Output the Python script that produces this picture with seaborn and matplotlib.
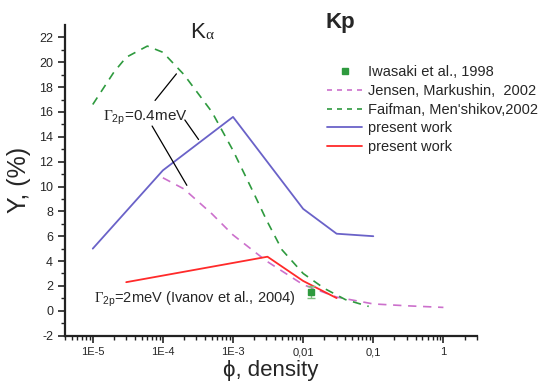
import seaborn as sns
import pandas as pd
import numpy as np
import matplotlib.pyplot as plt

# data
iwasaki_x = [0.0131]
iwasaki_y = [1.5]
iwasaki_err = [0.5]

jensen_x = [1e-4, 2e-4, 5e-4, 1e-3, 3e-3, 1e-2, 3e-2, 0.1, 0.3, 1.0]
jensen_y = [10.7, 9.8, 7.8, 6.1, 4.0, 2.1, 1.1, 0.55, 0.4, 0.27]

faifman_x = [1e-5, 2e-5, 3e-5, 6e-5, 1e-4, 2e-4, 5e-4, 1e-3, 2e-3, 3e-3, 5e-3, 1e-2, 2e-2, 4e-2, 0.086]
faifman_y = [16.6, 19.2, 20.4, 21.3, 20.8, 19.0, 16.0, 12.9, 9.4, 7.3, 4.9, 3.0, 1.8, 0.9, 0.35]

ka_x = [1e-5, 1e-4, 1e-3, 1e-2, 3e-2, 0.1]
ka_y = [5.0, 11.3, 15.6, 8.2, 6.2, 6.0]

kb_x = [3e-5, 3.1e-3, 1e-2, 3e-2]
kb_y = [2.3, 4.35, 2.4, 1.02]

xticks = [1e-5, 1e-4, 1e-3, 1e-2, 1e-1, 1]
xticklabels = ["1E-5", "1E-4", "1E-3", "0,01", "0,1", "1"]

sns.set_style("ticks")
plt.rcParams['font.family'] = ['Liberation Sans', 'DejaVu Sans']
plt.rcParams['axes.unicode_minus'] = False
plt.rcParams['mathtext.fontset'] = 'custom'
plt.rcParams['mathtext.rm'] = 'Liberation Serif'
plt.rcParams['mathtext.sf'] = 'Liberation Sans'

fig = plt.figure(figsize=(5.45, 3.84), dpi=100)
ax = fig.add_axes([0.119, 0.126, 0.756, 0.809])

blue = "#6a62c8"
red = "#ff2a2a"
pink = "#cc70cc"
green = "#2e9a3e"

sns.lineplot(x=jensen_x, y=jensen_y, ax=ax, color=pink, lw=1.2)
ax.lines[-1].set_dashes([5, 4])
sns.lineplot(x=faifman_x, y=faifman_y, ax=ax, color=green, lw=1.2)
ax.lines[-1].set_dashes([5, 4])
sns.lineplot(x=ka_x, y=ka_y, ax=ax, color=blue, lw=1.3)
sns.lineplot(x=kb_x, y=kb_y, ax=ax, color=red, lw=1.3)
ax.errorbar(iwasaki_x, iwasaki_y, yerr=iwasaki_err, fmt='s', color=green, ms=5,
            capsize=3, elinewidth=1, ecolor="#7fbf7f")

ax.set_xscale('log')
ax.set_xlim(4e-6, 3)
ax.set_ylim(-2, 23)
ax.set_xticks(xticks)
ax.set_xticklabels(xticklabels, fontsize=8)
ax.xaxis.set_minor_locator(plt.matplotlib.ticker.LogLocator(base=10, subs=np.arange(2, 10)))
ax.xaxis.set_minor_formatter(plt.NullFormatter())
ax.set_yticks(np.arange(-2, 23, 2))
ax.set_yticks(np.arange(-2, 23, 1), minor=True)
ax.tick_params(axis='y', labelsize=9)
ax.tick_params(which='major', length=5, width=1.2, direction='out', color='#222222')
ax.tick_params(which='minor', length=3, width=1, direction='out', color='#222222')
sns.despine(ax=ax)
for s in ['left', 'bottom']:
    ax.spines[s].set_linewidth(1.6)
    ax.spines[s].set_color('#222222')

ax.set_xlabel("ϕ, density", fontsize=16, labelpad=2)
ax.set_ylabel("Y, (%)", fontsize=18, labelpad=6)

fig.text(0.349, 0.915, "K", fontsize=16, va='center')
fig.text(0.376, 0.908, "α", fontsize=11, va='center', family='Liberation Serif')
fig.text(0.597, 0.941, "Kp", fontsize=16, weight='bold', va='center')

ax.text(1.41e-5, 15.5, r"$\Gamma_{\mathsf{2p}}$=0.4meV", fontsize=11, va='center')
ax.text(1.05e-5, 0.9, r"$\Gamma_{\mathsf{2p}}$=2meV (Ivanov et al., 2004)", fontsize=10.5, va='center')

ax.annotate("", xy=(1.65e-4, 19.24), xytext=(7.3e-5, 16.75),
            arrowprops=dict(arrowstyle='-', color='black', lw=0.9))
ax.annotate("", xy=(3.4e-4, 13.6), xytext=(1.95e-4, 15.54),
            arrowprops=dict(arrowstyle='-', color='black', lw=0.9))
ax.annotate("", xy=(2.3e-4, 9.9), xytext=(6.7e-5, 15.06),
            arrowprops=dict(arrowstyle='-', color='black', lw=0.9))

h_iw = plt.Line2D([], [], ls='none', marker='s', color=green, ms=5)
h_je = plt.Line2D([], [], color=pink, lw=1.2, dashes=[3, 3])
h_fa = plt.Line2D([], [], color=green, lw=1.2, dashes=[3, 3])
h_ka = plt.Line2D([], [], color=blue, lw=1.3)
h_kb = plt.Line2D([], [], color=red, lw=1.3)
fig.legend([h_iw, h_je, h_fa, h_ka, h_kb],
           ["Iwasaki et al., 1998", "Jensen, Markushin,  2002", "Faifman, Men'shikov,2002",
            "present work", "present work"],
           loc='upper left', bbox_to_anchor=(0.6, 0.83), frameon=False, fontsize=10.5,
           handlelength=2.4, handletextpad=0.4, labelspacing=0.32, borderaxespad=0, borderpad=0)

fig.savefig("out.png", dpi=100)
